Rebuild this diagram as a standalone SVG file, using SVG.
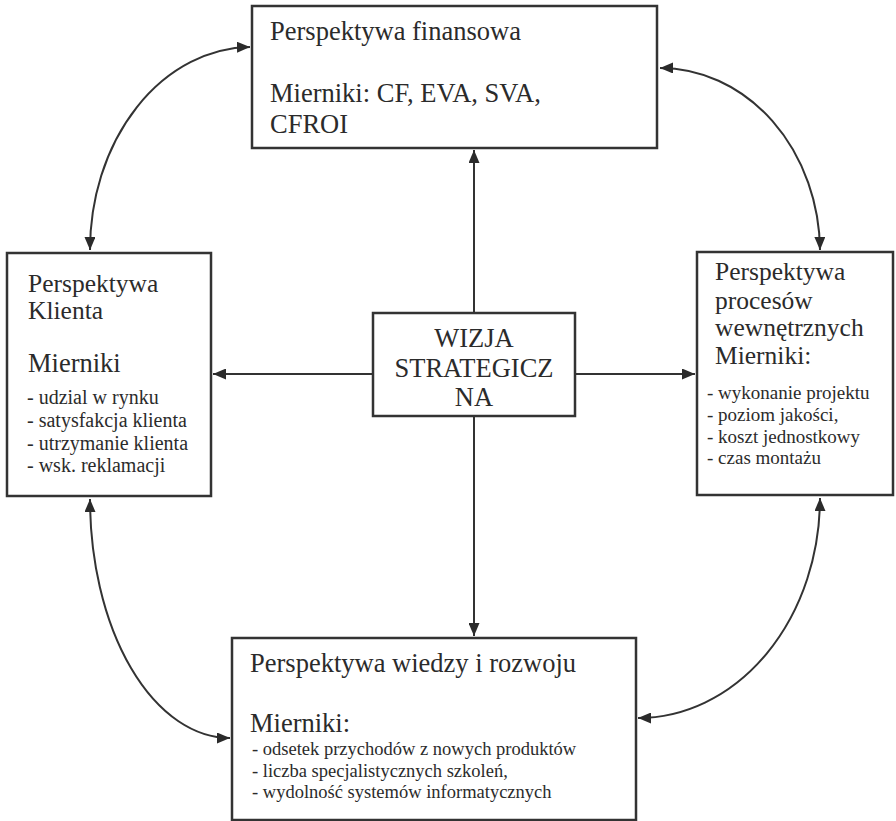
<svg xmlns="http://www.w3.org/2000/svg" width="896" height="821" viewBox="0 0 896 821">
<defs>
<marker id="ah" viewBox="0 0 13 11" refX="13" refY="5.5" markerWidth="13" markerHeight="11" markerUnits="userSpaceOnUse" orient="auto-start-reverse">
<path d="M0,0 L13,5.5 L0,11 Z" fill="#2b2b2b"/>
</marker>
</defs>
<style>
.box{fill:#fff;stroke:#333;stroke-width:2.5}
.h{font-family:"Liberation Serif","Times New Roman",serif;font-size:26.5px;fill:#2b2b2b}
.hs{font-family:"Liberation Serif","Times New Roman",serif;font-size:25.5px;fill:#2b2b2b}
.l{font-family:"Liberation Serif","Times New Roman",serif;fill:#2b2b2b}
.c{fill:none;stroke:#333;stroke-width:2;marker-end:url(#ah)}
.d{fill:none;stroke:#333;stroke-width:2;marker-start:url(#ah);marker-end:url(#ah)}
</style>
<rect width="896" height="821" fill="#fff"/>
<g id="connectors">
<path class="c" d="M474 313 L474 150"/>
<path class="c" d="M373 374 L213 374"/>
<path class="c" d="M575 374 L695 374"/>
<path class="c" d="M474 416 L474 636"/>
<path class="d" d="M90 250 A162 203 0 0 1 250 47"/>
<path class="d" d="M660 68 A160 184 0 0 1 820 250"/>
<path class="d" d="M90 499 A140 239 0 0 0 230 738"/>
<path class="d" d="M820 498 A182 220 0 0 1 638 718"/>
</g>
<g id="finansowa">
<rect class="box" x="252" y="6" width="405" height="142"/>
<text class="h" x="270" y="40">Perspektywa finansowa</text>
<text class="h" x="270" y="102">Mierniki: CF, EVA, SVA,</text>
<text class="h" x="270" y="133">CFROI</text>
</g>
<g id="klienta">
<rect class="box" x="7" y="253" width="204" height="243"/>
<text class="hs" x="28" y="292">Perspektywa</text>
<text class="hs" x="28" y="319">Klienta</text>
<text class="h" x="28" y="372">Mierniki</text>
<text class="l" font-size="20" x="27" y="404">- udzial w rynku</text>
<text class="l" font-size="20" x="27" y="427">- satysfakcja klienta</text>
<text class="l" font-size="20" x="27" y="450">- utrzymanie klienta</text>
<text class="l" font-size="20" x="27" y="472">- wsk. reklamacji</text>
</g>
<g id="wizja">
<rect class="box" x="373" y="313" width="202" height="103"/>
<text class="h" x="474" y="347" text-anchor="middle">WIZJA</text>
<text class="h" x="474" y="377" text-anchor="middle">STRATEGICZ</text>
<text class="h" x="474" y="406" text-anchor="middle">NA</text>
</g>
<g id="procesow">
<rect class="box" x="697" y="252" width="196" height="243"/>
<text class="hs" x="715" y="280">Perspektywa</text>
<text class="hs" x="715" y="309">procesów</text>
<text class="hs" x="715" y="336">wewnętrznych</text>
<text class="hs" x="715" y="364">Mierniki:</text>
<text class="l" font-size="19" x="707" y="399">- wykonanie projektu</text>
<text class="l" font-size="19" x="707" y="421">- poziom jakości,</text>
<text class="l" font-size="19" x="707" y="443">- koszt jednostkowy</text>
<text class="l" font-size="19" x="707" y="464">- czas montażu</text>
</g>
<g id="wiedzy">
<rect class="box" x="232" y="638" width="404" height="182"/>
<text class="h" x="250" y="672">Perspektywa wiedzy i rozwoju</text>
<text class="h" x="250" y="732">Mierniki:</text>
<text class="l" font-size="18.5" x="252" y="755">- odsetek przychodów z nowych produktów</text>
<text class="l" font-size="18.5" x="252" y="777">- liczba specjalistycznych szkoleń,</text>
<text class="l" font-size="18.5" x="252" y="798">- wydolność systemów informatycznych</text>
</g>
</svg>
